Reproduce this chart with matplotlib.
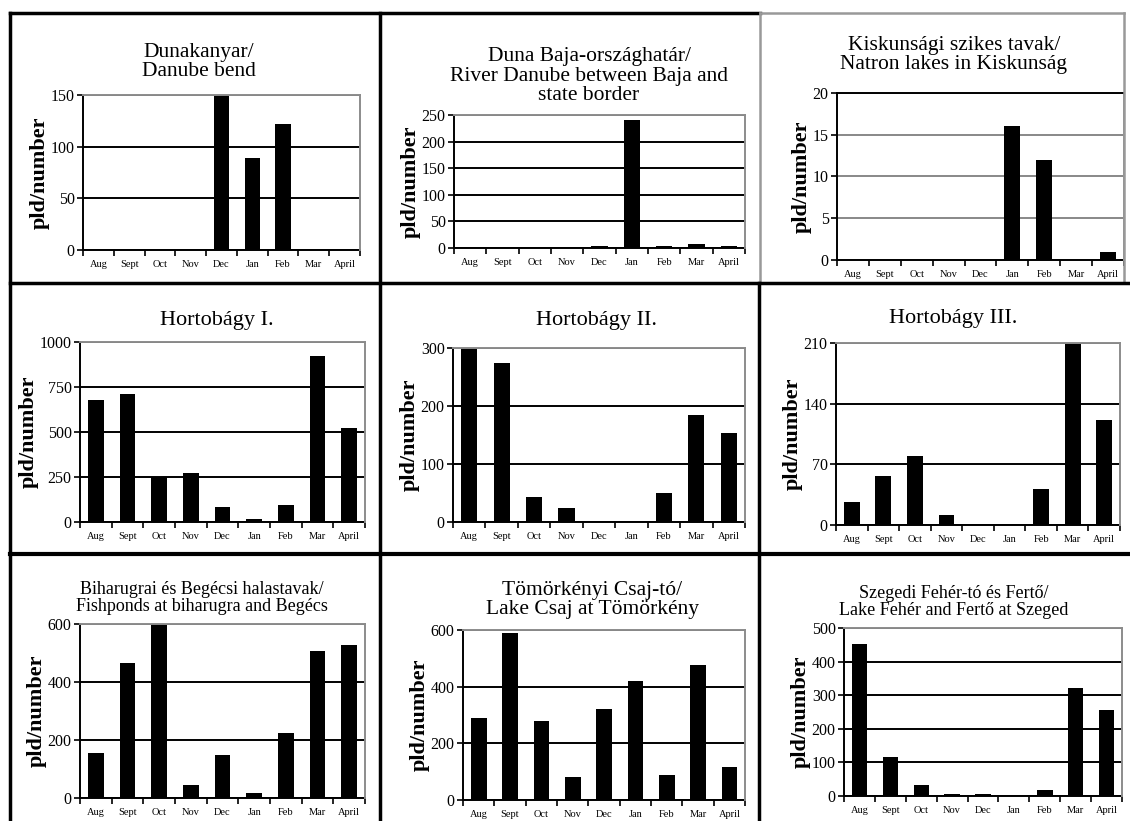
import matplotlib
matplotlib.use("Agg")
import matplotlib.pyplot as plt
from matplotlib.lines import Line2D

plt.rcParams['font.family'] = ['Liberation Serif', 'DejaVu Serif']

months = ["Aug", "Sept", "Oct", "Nov", "Dec", "Jan", "Feb", "Mar", "April"]

titles = [
    "Dunakanyar/\nDanube bend",
    "Duna Baja-országhatár/\nRiver Danube between Baja and\nstate border",
    "Kiskunsági szikes tavak/\nNatron lakes in Kiskunság",
    "Hortobágy I.",
    "Hortobágy II.",
    "Hortobágy III.",
    "Biharugrai és Begécsi halastavak/\nFishponds at biharugra and Begécs",
    "Tömörkényi Csaj-tó/\nLake Csaj at Tömörkény",
    "Szegedi Fehér-tó és Fertő/\nLake Fehér and Fertő at Szeged",
]

danube_bend = [0, 0, 0, 0, 149, 89, 122, 0, 0]
danube_baja = [0, 0, 0, 0, 4, 240, 4, 8, 4]
kiskunsag = [0, 0, 0, 0, 0, 16, 12, 0, 1]
hortobagy1 = [679, 712, 249, 271, 81, 17, 92, 921, 524]
hortobagy2 = [298, 274, 43, 25, 0, 0, 50, 184, 153]
hortobagy3 = [27, 57, 80, 11, 0, 0, 41, 210, 121]
biharugra = [155, 465, 600, 46, 148, 17, 224, 506, 528]
tomorkeny = [290, 588, 279, 81, 320, 420, 88, 475, 116]
szeged = [452, 115, 32, 7, 7, 0, 19, 322, 257]

series = [danube_bend, danube_baja, kiskunsag, hortobagy1, hortobagy2,
          hortobagy3, biharugra, tomorkeny, szeged]

yticks = [
    [0, 50, 100, 150],
    [0, 50, 100, 150, 200, 250],
    [0, 5, 10, 15, 20],
    [0, 250, 500, 750, 1000],
    [0, 100, 200, 300],
    [0, 70, 140, 210],
    [0, 200, 400, 600],
    [0, 200, 400, 600],
    [0, 100, 200, 300, 400, 500],
]

ylabel = "pld/number"

W, H = 1130, 821
fig = plt.figure(figsize=(W / 100, H / 100), dpi=100)

# axes boxes in pixels: left, top, right, bottom
boxes = [
    (83, 95, 360, 250),
    (454, 115, 745, 248),
    (837, 93, 1124, 260),
    (80, 342, 365, 522),
    (453, 348, 745, 522),
    (836, 343, 1120, 525),
    (80, 624, 365, 798),
    (463, 630, 745, 800),
    (844, 628, 1122, 796),
]
# title centre x and centre y (pixels), font size
title_pos = [
    (199, 62, 15.5),
    (589, 76, 15.5),
    (954, 55, 15.5),
    (217, 320, 16),
    (597, 320, 16),
    (953, 318, 16),
    (202, 598, 13),
    (592, 600, 15.5),
    (954, 602, 13),
]

for i in range(9):
    l, t, r, b = boxes[i]
    ax = fig.add_axes([l / W, 1 - b / H, (r - l) / W, (b - t) / H])
    x = list(range(len(months)))
    ax.bar(x, series[i], width=0.5, color='black', zorder=2)
    ax.set_xlim(-0.5, len(months) - 0.5)
    ax.set_ylim(yticks[i][0], yticks[i][-1])
    ax.set_yticks(yticks[i])
    ax.set_yticklabels([str(v) for v in yticks[i]], fontsize=11.5)
    ax.set_xticks([k - 0.5 for k in range(len(months) + 1)])
    ax.set_xticklabels([])
    ax.set_xticks(x, minor=True)
    ax.set_xticklabels(months, minor=True, fontsize=7.5)
    ax.tick_params(axis='x', which='major', direction='out', length=4, width=1.2, color='black')
    ax.tick_params(axis='x', which='minor', length=0, pad=7)
    ax.tick_params(axis='y', direction='out', length=4, width=1.2, pad=2)
    ax.set_axisbelow(True)
    grid_col = '#888888' if i == 2 else 'black'
    ax.yaxis.grid(True, color=grid_col, linewidth=1.4)
    for s in ['left', 'bottom']:
        ax.spines[s].set_color('black')
        ax.spines[s].set_linewidth(1.4)
    for s in ['top', 'right']:
        ax.spines[s].set_color('#8c8c8c')
        ax.spines[s].set_linewidth(1.4)
        ax.spines[s].set_zorder(3)
    if i == 2:
        ax.spines['top'].set_color('black')
    tx, ty, fs = title_pos[i]
    fig.text(tx / W, 1 - ty / H, titles[i], ha='center', va='center',
             fontsize=fs, linespacing=1.0)
    ax.set_ylabel(ylabel, fontsize=16, fontweight='bold', labelpad=1)


def hline(y, x0, x1, color='black', lw=2.5):
    fig.add_artist(Line2D([x0 / W, x1 / W], [1 - y / H, 1 - y / H],
                          color=color, linewidth=lw, transform=fig.transFigure))


def vline(x, y0, y1, color='black', lw=2.5):
    fig.add_artist(Line2D([x / W, x / W], [1 - y0 / H, 1 - y1 / H],
                          color=color, linewidth=lw, transform=fig.transFigure))


hline(13, 10, 760)
hline(13, 760, 1124, color='#999999', lw=1.8)
vline(10, 13, 821)
vline(380, 13, 821)
vline(760, 13, 283, color='#999999', lw=1.8)
vline(759, 283, 821)
vline(1124, 13, 283, color='#999999', lw=1.8)
hline(283, 10, 1130)
hline(554, 10, 1130, lw=3)

fig.savefig("out.png", dpi=100)
